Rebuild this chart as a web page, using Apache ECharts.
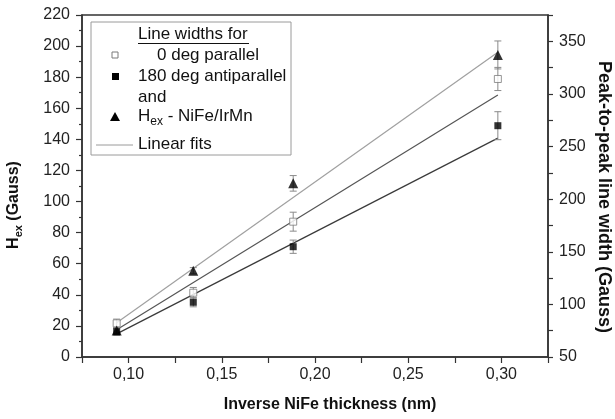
<!DOCTYPE html>
<html><head><meta charset="utf-8">
<script src="https://cdn.jsdelivr.net/npm/echarts@6/dist/echarts.min.js"></script>
<style>html,body{margin:0;padding:0;background:#fff}#c{width:615px;height:419px}</style>
</head><body><div id="c"></div>
<script>
// ---- data ----
const xVals = [0.0936, 0.1347, 0.1883, 0.2981];          // inverse NiFe thickness (nm)
const hexVals = [17, 55.5, 111.7, 194.3];                 // Hex - NiFe/IrMn (left axis)
const hexErr = [2, 2, 5, 9];
const parVals = [82, 111.1, 178.6, 314.2];                // 0 deg parallel (right axis)
const parErr = [4, 5, 9, 11];
const antiVals = [74, 102, 154.8, 269.8];                 // 180 deg antiparallel (right axis)
const antiErr = [3, 4.3, 6.3, 13.3];
const fitX = [0.0936, 0.2981];
const hexFit = [22, 196];
const parFit = [76, 299];
const antiFit = [72, 258];
const leftTicks = {min: 0, max: 220, step: 20};
const rightTicks = {min: 50, max: 375, step: 25, labelStep: 50};
const xTicks = {min: 0.075, max: 0.325, step: 0.025};

const FONT = '"Liberation Sans", Arial, sans-serif';
const AX = '#333';

function pairs(xs, ys) { return xs.map((x, i) => [x, ys[i]]); }
function errSeries(yIdx, vals, errs) {
  return {
    type: 'custom', yAxisIndex: yIdx, z: 2, silent: true,
    data: xVals.map((x, i) => [x, vals[i] - errs[i], vals[i] + errs[i]]),
    encode: {x: 0, y: [1, 2]},
    renderItem(params, api) {
      const lo = api.coord([api.value(0), api.value(1)]);
      const hi = api.coord([api.value(0), api.value(2)]);
      const w = 3.5, st = {stroke: '#8a8a8a', lineWidth: 1};
      return {type: 'group', children: [
        {type: 'line', shape: {x1: lo[0], y1: lo[1], x2: hi[0], y2: hi[1]}, style: st},
        {type: 'line', shape: {x1: lo[0] - w, y1: lo[1], x2: lo[0] + w, y2: lo[1]}, style: st},
        {type: 'line', shape: {x1: hi[0] - w, y1: hi[1], x2: hi[0] + w, y2: hi[1]}, style: st}
      ]};
    }
  };
}
function fitSeries(yIdx, ys, color) {
  return {type: 'line', yAxisIndex: yIdx, data: pairs(fitX, ys), symbol: 'none', z: 1,
    lineStyle: {color: color, width: 1.2}, silent: true};
}

// text with subscript, built from separately measured pieces
const mctx = document.createElement('canvas').getContext('2d');
function subText(x, y, rotation, parts, center, z) {
  let widths = parts.map(p => { mctx.font = p.font; return mctx.measureText(p.t).width; });
  const total = widths.reduce((a, b) => a + b, 0);
  let cx = center ? -total / 2 : 0;
  const children = parts.map((p, i) => {
    const el = {type: 'text', x: cx, y: p.dy || 0, z: z,
      style: {text: p.t, font: p.font, fill: '#111', verticalAlign: 'middle', align: 'left'}};
    cx += widths[i];
    return el;
  });
  return {type: 'group', x: x, y: y, rotation: rotation, z: z, children: children};
}

const chart = echarts.init(document.getElementById('c'), null, {renderer: 'canvas'});
const tickLabel = {color: '#222', fontSize: 16, fontFamily: FONT};
const LF = '17px ' + FONT;
chart.setOption({
  animation: false,
  grid: {left: 82, right: 67, top: 15, bottom: 62, show: true, borderColor: AX, borderWidth: 1.5, backgroundColor: 'transparent'},
  xAxis: {
    type: 'value', min: xTicks.min, max: xTicks.max, interval: xTicks.step,
    splitLine: {show: false},
    axisLine: {lineStyle: {color: AX, width: 1.5}},
    axisTick: {length: 6, lineStyle: {color: AX, width: 1.2}},
    axisLabel: Object.assign({margin: 10, formatter: v => {
      const k = Math.round(v / xTicks.step);
      if (k % 2 !== 0 || Math.abs(v - xTicks.min) < 1e-9 || Math.abs(v - xTicks.max) < 1e-9) return '';
      return v.toFixed(2).replace('.', ',');
    }}, tickLabel)
  },
  yAxis: [{
    type: 'value', position: 'left', min: leftTicks.min, max: leftTicks.max, interval: leftTicks.step,
    splitLine: {show: false},
    axisLine: {show: true, lineStyle: {color: AX, width: 1.5}},
    axisTick: {show: true, length: 6, lineStyle: {color: AX, width: 1.2}},
    minorTick: {show: true, splitNumber: 2, length: 3, lineStyle: {color: AX, width: 1.2}},
    minorSplitLine: {show: false},
    axisLabel: Object.assign({margin: 12}, tickLabel)
  }, {
    type: 'value', position: 'right', min: rightTicks.min, max: rightTicks.max, interval: rightTicks.step,
    splitLine: {show: false},
    axisLine: {show: true, lineStyle: {color: AX, width: 1.5}},
    axisTick: {show: true, length: 5, lineStyle: {color: AX, width: 1.2}},
    axisLabel: Object.assign({margin: 11, formatter: v => (Math.round(v) % rightTicks.labelStep === 0 && v < rightTicks.max) ? String(Math.round(v)) : ''}, tickLabel)
  }],
  series: [
    fitSeries(0, hexFit, '#a0a0a0'),
    fitSeries(1, parFit, '#555555'),
    fitSeries(1, antiFit, '#3a3a3a'),
    errSeries(0, hexVals, hexErr),
    errSeries(1, parVals, parErr),
    errSeries(1, antiVals, antiErr),
    {type: 'scatter', yAxisIndex: 1, data: pairs(xVals, parVals), symbol: 'rect', symbolSize: 7, z: 5,
      itemStyle: {color: '#fff', borderColor: '#7a7a7a', borderWidth: 1}},
    {type: 'scatter', yAxisIndex: 1, data: pairs(xVals, antiVals), symbol: 'rect', symbolSize: 7, z: 5,
      itemStyle: {color: '#000'}},
    {type: 'scatter', yAxisIndex: 0, data: pairs(xVals, hexVals), symbol: 'triangle', symbolSize: 10, z: 5,
      itemStyle: {color: '#000'}}
  ],
  graphic: [
    // axis titles
    subText(14, 205, Math.PI / 2, [
      {t: 'H', font: 'bold 16px ' + FONT},
      {t: 'ex', font: 'bold 11px ' + FONT, dy: 5},
      {t: ' (Gauss)', font: 'bold 16px ' + FONT}], true, 10),
    {type: 'text', x: 604, y: 197, rotation: -Math.PI / 2, z: 10,
      style: {text: 'Peak-to-peak line width (Gauss)', align: 'center', verticalAlign: 'middle', fill: '#111', font: 'bold 18px ' + FONT}},
    {type: 'text', x: 330, y: 405, z: 10,
      style: {text: 'Inverse NiFe thickness (nm)', align: 'center', verticalAlign: 'middle', fill: '#111', font: 'bold 16px ' + FONT}},
    // legend box
    {type: 'rect', shape: {x: 91, y: 22, width: 200, height: 133}, z: 20,
      style: {fill: '#fff', stroke: '#9a9a9a', lineWidth: 1}},
    {type: 'text', x: 138, y: 34, z: 21, style: {text: 'Line widths for', font: LF, fill: '#111', verticalAlign: 'middle'}},
    {type: 'line', shape: {x1: 138, y1: 43.5, x2: 249, y2: 43.5}, z: 21, style: {stroke: '#111', lineWidth: 1}},
    {type: 'rect', shape: {x: 112, y: 52, width: 6, height: 6}, z: 21, style: {fill: '#fff', stroke: '#7a7a7a', lineWidth: 1}},
    {type: 'text', x: 157, y: 55, z: 21, style: {text: '0 deg parallel', font: LF, fill: '#111', verticalAlign: 'middle'}},
    {type: 'rect', shape: {x: 112, y: 73, width: 7, height: 7}, z: 21, style: {fill: '#000'}},
    {type: 'text', x: 138, y: 76, z: 21, style: {text: '180 deg antiparallel', font: LF, fill: '#111', verticalAlign: 'middle'}},
    {type: 'text', x: 138, y: 97, z: 21, style: {text: 'and', font: LF, fill: '#111', verticalAlign: 'middle'}},
    {type: 'polygon', shape: {points: [[115, 112], [110, 121], [120, 121]]}, z: 21, style: {fill: '#000'}},
    subText(138, 116, 0, [
      {t: 'H', font: LF},
      {t: 'ex', font: '12px ' + FONT, dy: 6},
      {t: ' - NiFe/IrMn', font: LF}], false, 21),
    {type: 'line', shape: {x1: 96, y1: 145, x2: 133, y2: 145}, z: 21, style: {stroke: '#9a9a9a', lineWidth: 1}},
    {type: 'text', x: 138, y: 144, z: 21, style: {text: 'Linear fits', font: LF, fill: '#111', verticalAlign: 'middle'}}
  ]
});
</script></body></html>
